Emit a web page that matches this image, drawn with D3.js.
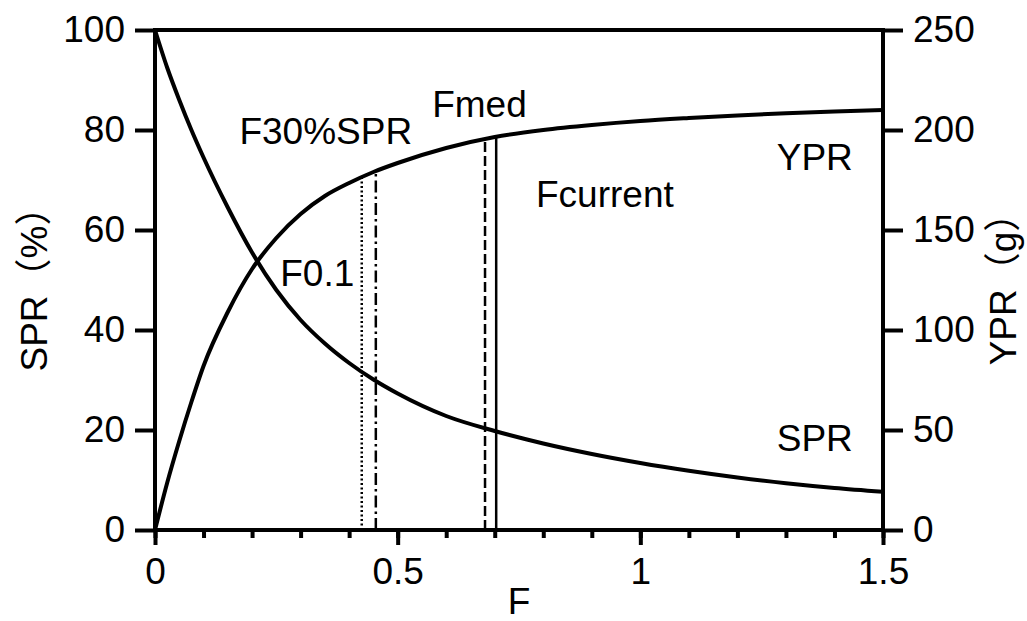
<!DOCTYPE html>
<html>
<head>
<meta charset="utf-8">
<script src="https://cdn.jsdelivr.net/npm/d3@7"></script>
<style>
  body { margin: 0; background: #fff; }
  svg text { font-family: "Liberation Sans", Arial, "Noto Sans CJK JP", sans-serif; fill: #000; }
</style>
</head>
<body>
<div id="chart"></div>
<script>
const W = 1027, H = 621
const margin = {top: 30, right: 144, bottom: 91, left: 155}
const width = W - margin.left - margin.right,
  height = H - margin.top - margin.bottom

// fishing mortality grid and the two curves
const fValues = [0, 0.025, 0.05, 0.075, 0.1, 0.15, 0.2, 0.25, 0.3, 0.35, 0.4, 0.45, 0.5,
  0.6, 0.7, 0.8, 0.9, 1.0, 1.1, 1.2, 1.3, 1.4, 1.5]
const sprValues = [100, 92.5, 86, 80, 74.5, 64.5, 55.5, 48, 42, 37.3, 33.4, 30.1, 27.3,
  22.8, 19.8, 17.3, 15.2, 13.4, 11.85, 10.5, 9.35, 8.4, 7.65]
const yprValues = [0, 23.5, 44.5, 64, 82, 109, 130.5, 146, 158, 167, 173.5, 179, 183.5,
  191, 196.5, 200, 202.5, 204.5, 206, 207.3, 208.4, 209.3, 210]

// reference points
const refF = [0.426, 0.455, 0.68, 0.703]
const refDash = ["2,2.5", "12,4,2.5,4", "10,4", null]

const xTicks = [0, 0.5, 1, 1.5]
const xMinor = d3.range(0, 1.51, 0.1)
const sprTicks = [0, 20, 40, 60, 80, 100]
const yprTicks = [0, 50, 100, 150, 200, 250]

const fontSize = 37

var svg = d3.select("#chart").append("svg")
  .attr("width", W)
  .attr("height", H)
  .append("g")
  .attr("transform", "translate(" + margin.left + "," + margin.top + ")")

var x = d3.scaleLinear().domain([0, 1.5]).range([0, width])
var ySpr = d3.scaleLinear().domain([0, 100]).range([height, 0])
var yYpr = d3.scaleLinear().domain([0, 250]).range([height, 0])

function yprAt(f) {
  var i = d3.bisectRight(fValues, f)
  i = Math.max(1, Math.min(fValues.length - 1, i))
  var t = (f - fValues[i-1]) / (fValues[i] - fValues[i-1])
  return yprValues[i-1] + t * (yprValues[i] - yprValues[i-1])
}

function styleAxis(g) {
  g.selectAll(".domain").remove()
  g.selectAll("line").attr("stroke", "#000").attr("stroke-width", 4)
  g.selectAll("text").style("font-size", fontSize + "px")
}

// reference lines (drawn under the curves)
refF.forEach(function(f, i) {
  svg.append("line")
    .attr("x1", x(f)).attr("x2", x(f))
    .attr("y1", height).attr("y2", yYpr(yprAt(f)))
    .attr("stroke", "#000")
    .attr("stroke-width", 2.5)
    .attr("stroke-dasharray", refDash[i])
})

// curves
var sprLine = d3.line()
  .curve(d3.curveMonotoneX)
  .x(function(d, i) { return x(fValues[i]) })
  .y(function(d) { return ySpr(d) })
var yprLine = d3.line()
  .curve(d3.curveMonotoneX)
  .x(function(d, i) { return x(fValues[i]) })
  .y(function(d) { return yYpr(d) })

svg.append("path").attr("d", sprLine(sprValues))
  .attr("fill", "none").attr("stroke", "#000").attr("stroke-width", 4)
svg.append("path").attr("d", yprLine(yprValues))
  .attr("fill", "none").attr("stroke", "#000").attr("stroke-width", 4)

// frame
svg.append("rect")
  .attr("width", width).attr("height", height)
  .attr("fill", "none").attr("stroke", "#000").attr("stroke-width", 4)

// axes
svg.append("g")
  .attr("transform", "translate(0," + height + ")")
  .call(d3.axisBottom(x).tickValues(xMinor).tickSize(8).tickFormat(""))
  .call(styleAxis)

svg.append("g")
  .attr("transform", "translate(0," + height + ")")
  .call(d3.axisBottom(x).tickValues(xTicks).tickSize(15).tickPadding(13).tickFormat(d3.format("")))
  .call(styleAxis)

svg.append("g")
  .call(d3.axisLeft(ySpr).tickValues(sprTicks).tickSize(20).tickPadding(10))
  .call(styleAxis)

svg.append("g")
  .attr("transform", "translate(" + width + ",0)")
  .call(d3.axisRight(yYpr).tickValues(yprTicks).tickSize(20).tickPadding(10))
  .call(styleAxis)

// axis titles
svg.append("text")
  .attr("x", width / 2).attr("y", height + 84)
  .attr("text-anchor", "middle")
  .style("font-size", fontSize + "px")
  .text("F")

svg.append("text")
  .attr("transform", "translate(-108," + (height / 2) + ") rotate(-90)")
  .attr("text-anchor", "middle")
  .style("font-size", fontSize + "px")
  .text("SPR（%）")

svg.append("text")
  .attr("transform", "translate(" + (width + 133) + "," + (height / 2) + ") rotate(-90)")
  .attr("text-anchor", "middle")
  .style("font-size", fontSize + "px")
  .text("YPR（g）")

// in-plot labels
const labelText = ["F0.1", "F30%SPR", "Fmed", "Fcurrent", "YPR", "SPR"]
const labelPos = [[0.258, 48.8], [0.174, 77.2], [0.571, 82.6], [0.785, 64.6], [1.281, 72], [1.281, 15.8]]

svg.selectAll(".label")
  .data(labelText)
  .enter().append("text")
  .attr("class", "label")
  .attr("x", function(d, i) { return x(labelPos[i][0]) })
  .attr("y", function(d, i) { return ySpr(labelPos[i][1]) })
  .style("font-size", fontSize + "px")
  .text(function(d) { return d })
</script>
</body>
</html>
